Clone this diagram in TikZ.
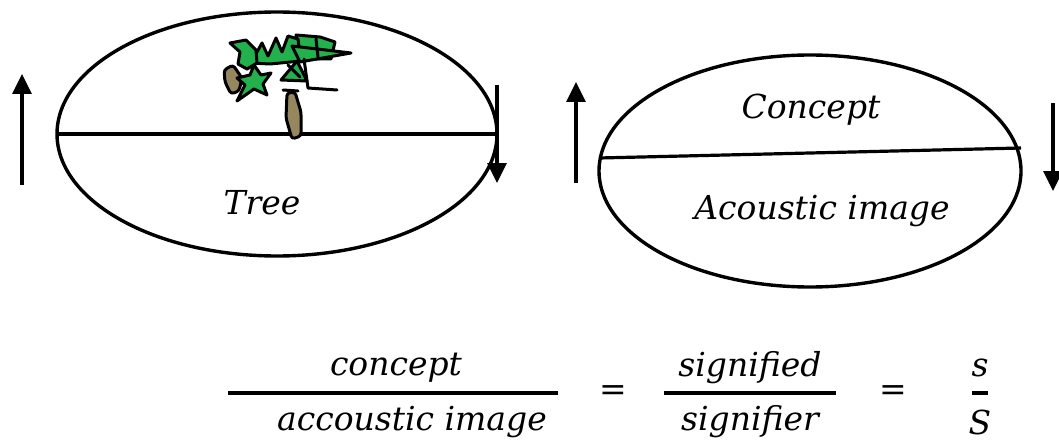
\documentclass[tikz,border=0pt]{standalone}
\usepackage{fontspec}
\setmainfont{DejaVu Serif}
\usetikzlibrary{arrows.meta}

\definecolor{leafgreen}{RGB}{34,177,76}
\definecolor{barkbrown}{RGB}{150,135,95}

\tikzset{
    rim/.style={black,line width=3.4pt},
    split/.style={black,line width=3.2pt},
    updown/.style={black,line width=3.2pt,-{Triangle[length=20pt,width=19pt]}},
    leaf/.style={fill=leafgreen,draw=black,line width=3pt,line join=round},
    bark/.style={fill=barkbrown,draw=black,line width=3pt,line join=round,rounded corners=3pt},
    scribble/.style={black,line width=3pt,line cap=round,line join=round},
    word/.style={font=\fontsize{33}{40}\selectfont\itshape},
    bar/.style={black,line width=3.2pt}
}

\begin{document}
\begin{tikzpicture}[x=1pt,y=-1pt]
    \useasboundingbox (0,0) rectangle (1059,441);

    % sign on the left: picture over word
    \draw[rim] (277,134) ellipse [x radius=220pt, y radius=122pt];
    \draw[split] (57,134) -- (497,134);

    % sign on the right: concept over acoustic image
    \draw[rim] (810,171) ellipse [x radius=211pt, y radius=116pt];
    \draw[split] (599,158) -- (1021,148);

    % the tree
    \draw[bark] (287,93) -- (295,92) -- (301,112) -- (301,136) -- (292,139) -- (286,118) -- cycle;
    \draw[scribble] (283,90) -- (298,91);
    \draw[bark] (224,70) -- (233,65) -- (242,78) -- (239,91) -- (231,94) -- (225,82) -- cycle;
    \draw[leaf] (296,35) -- (320,37) -- (335,42) -- (331,59) -- (300,59) -- cycle;
    \draw[leaf] (251,63) -- (262,43) -- (268,56) -- (276,38) -- (282,52) -- (288,36) -- (298,39) -- (301,61) -- (270,64) -- cycle;
    \draw[leaf] (230,43) -- (246,40) -- (256,50) -- (257,63) -- (247,69) -- (238,64) -- (240,52) -- cycle;
    \draw[leaf] (292,46) -- (351,53) -- (300,62) -- cycle;
    \draw[leaf] (281,80) -- (297,61) -- (307,81) -- cycle;
    \draw[leaf] (237,101) -- (245,85) -- (237,78) -- (250,75) -- (254,65) -- (261,75) -- (271,73) -- (263,84) -- (267,95) -- (254,89) -- cycle;
    \draw[scribble] (304,59) -- (308,88) -- (337,90);
    \draw[scribble] (316,39) -- (318,57);
    \draw[scribble] (288,65) -- (300,77);

    % labels inside the ovals
    \node[word] (tree) at (262,203) {Tree};
    \node[word] (concept) at (811,110) {Concept};
    \node[word] (acoustic) at (822,211) {Acoustic image};

    % arrows beside the ovals
    \coordinate (lup0) at (22,185);
    \coordinate (lup1) at (22,74);
    \coordinate (ldn0) at (497,85);
    \coordinate (ldn1) at (497,183);
    \coordinate (rup0) at (576,183);
    \coordinate (rup1) at (576,82);
    \coordinate (rdn0) at (1053,103);
    \coordinate (rdn1) at (1053,191);
    \draw[updown] (lup0) -- (lup1);
    \draw[updown] (ldn0) -- (ldn1);
    \draw[updown] (rup0) -- (rup1);
    \draw[updown] (rdn0) -- (rdn1);

    % the equation
    \node[word] (num1) at (396,368) {concept};
    \node[word] (den1) at (412,422) {accoustic image};
    \node[word] (num2) at (750,368) {signified};
    \node[word] (den2) at (750,422) {signifier};
    \node[word] (num3) at (980,368) {s};
    \node[word] (den3) at (980,422) {S};
    \node[word] (eq1) at (613,393) {=};
    \node[word] (eq2) at (893,393) {=};
    \draw[bar] (228,393) -- (558,393);
    \draw[bar] (664,393) -- (836,393);
    \draw[bar] (972,393) -- (988,393);
\end{tikzpicture}
\end{document}
